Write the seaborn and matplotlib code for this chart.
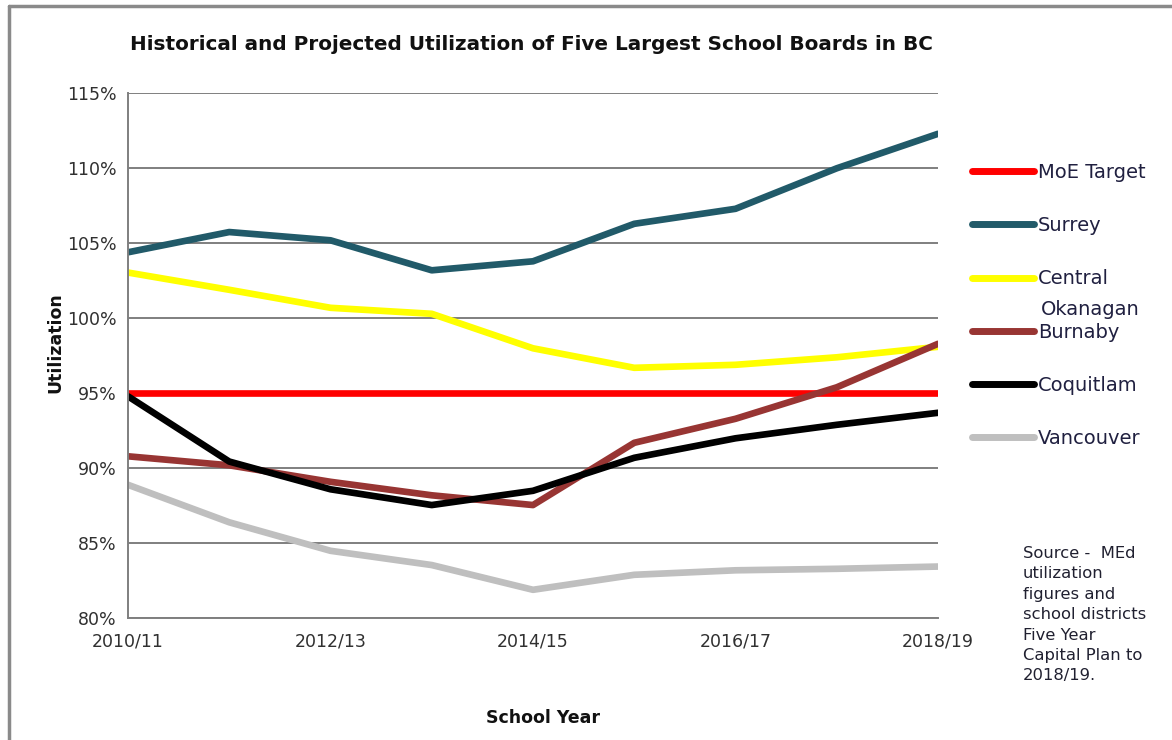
import pandas as pd
import seaborn as sns
import matplotlib.pyplot as plt
from matplotlib.lines import Line2D
from matplotlib.ticker import FuncFormatter

# dados (utilizacao em %)
anos = ['2010/11', '2011/12', '2012/13', '2013/14', '2014/15',
        '2015/16', '2016/17', '2017/18', '2018/19']
moe_target = [95.0, 95.0, 95.0, 95.0, 95.0, 95.0, 95.0, 95.0, 95.0]
surrey = [104.4, 105.75, 105.2, 103.2, 103.8, 106.3, 107.3, 110.0, 112.3]
central = [103.05, 101.9, 100.7, 100.3, 98.0, 96.7, 96.9, 97.4, 98.1]
burnaby = [90.8, 90.2, 89.1, 88.2, 87.55, 91.7, 93.3, 95.4, 98.3]
coquitlam = [94.8, 90.45, 88.6, 87.55, 88.5, 90.7, 92.0, 92.9, 93.7]
vancouver = [88.9, 86.4, 84.5, 83.55, 81.9, 82.9, 83.2, 83.3, 83.45]

series = ['MoE Target', 'Surrey', 'Central', 'Burnaby', 'Coquitlam', 'Vancouver']
cores = ['#FF0000', '#215A69', '#FFFF00', '#983533', '#000000', '#BFBFBF']
valores = [moe_target, surrey, central, burnaby, coquitlam, vancouver]

dados = pd.DataFrame({
    'ano': anos * len(series),
    'serie': [s for s in series for _ in anos],
    'util': [v for vals in valores for v in vals],
})

sns.set_theme(style='white')
plt.rcParams['font.family'] = ['DejaVu Sans']

fig = plt.figure(figsize=(11.72, 7.4), dpi=100)
ax = fig.add_axes([128 / 1172, 1 - 618.3 / 740, (938 - 128) / 1172, (618.3 - 93.3) / 740])

sns.lineplot(data=dados, x='ano', y='util', hue='serie', hue_order=series,
             palette=dict(zip(series, cores)), linewidth=4.8, ax=ax,
             legend=False, sort=False)

ax.set_xlim(0, len(anos) - 1)
ax.set_ylim(80, 115)
ax.set_yticks(range(80, 116, 5))
ax.yaxis.set_major_formatter(FuncFormatter(lambda v, p: f'{v:.0f}%'))
ax.set_xticks(range(len(anos)))
ax.set_xticklabels([a if i % 2 == 0 else '' for i, a in enumerate(anos)])
ax.grid(axis='y', color='#7f7f7f', linewidth=1.4)
ax.grid(axis='x', visible=False)
ax.set_axisbelow(True)
ax.set_xlabel('')
ax.set_ylabel('')
for s in ['top', 'right']:
    ax.spines[s].set_visible(False)
for s in ['left', 'bottom']:
    ax.spines[s].set_color('#7f7f7f')
    ax.spines[s].set_linewidth(1.4)
ax.tick_params(axis='both', direction='out', length=5, width=1.2, color='#7f7f7f',
               labelsize=12.5, labelcolor='#303030', pad=3)
ax.tick_params(axis='x', pad=5)

# legenda manual ao lado
handles = [Line2D([0], [0], color=c, linewidth=5, solid_capstyle='round') for c in cores]
leg = fig.legend(handles, series, loc='upper left',
                 bbox_to_anchor=(972 / 1172, 1 - 163 / 740), frameon=False,
                 fontsize=14, handlelength=3.2, handletextpad=0.2,
                 labelspacing=1.76, borderpad=0, borderaxespad=0)
for t in leg.get_texts():
    t.set_color('#202040')
fig.text(1041 / 1172, 1 - 309 / 740, 'Okanagan', fontsize=14, color='#202040',
         va='center', ha='left')

fig.text(531 / 1172, 1 - 45 / 740,
         'Historical and Projected Utilization of Five Largest School Boards in BC',
         ha='center', va='center', fontsize=14.4, color='#111111', fontweight='semibold')
fig.text(55 / 1172, 1 - 343 / 740, 'Utilization', rotation=90, ha='center', va='center',
         fontsize=12.5, fontweight='bold', color='#111111')
fig.text(543 / 1172, 1 - 718 / 740, 'School Year', ha='center', va='center',
         fontsize=12.5, fontweight='bold', color='#111111')
fig.text(1023 / 1172, 1 - 546 / 740,
         'Source -  MEd\nutilization\nfigures and\nschool districts\nFive Year\nCapital Plan to\n2018/19.',
         ha='left', va='top', fontsize=11.8, color='#202030', linespacing=1.45)

# moldura cinza (esquerda e topo)
fig.add_artist(Line2D([9 / 1172, 9 / 1172], [0, 1 - 6 / 740], color='#8a8a8a', linewidth=2.5))
fig.add_artist(Line2D([9 / 1172, 1], [1 - 6 / 740, 1 - 6 / 740], color='#8a8a8a', linewidth=2.5))

fig.savefig('out.png', dpi=100)
